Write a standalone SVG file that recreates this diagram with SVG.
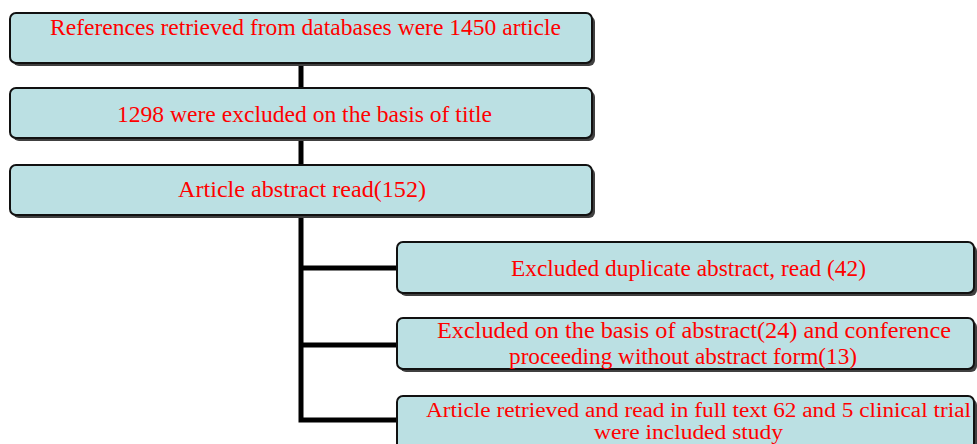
<svg xmlns="http://www.w3.org/2000/svg" width="977" height="444" viewBox="0 0 977 444">
<style>
.box{fill:#bbe0e3;stroke:#111;stroke-width:2}
.sh{fill:#404040}
.t{font-family:"Liberation Serif","Times New Roman",serif;font-size:24px;fill:#ff0000}
.s{font-size:20px}
.c{stroke:#000;stroke-width:5;fill:none}
</style>
<rect width="977" height="444" fill="#fff"/>
<g id="connectors">
<line class="c" x1="301" y1="63" x2="301" y2="88"/>
<line class="c" x1="301" y1="138" x2="301" y2="165"/>
<polyline class="c" points="301,215 301,420 397,420"/>
<line class="c" x1="301" y1="268" x2="397" y2="268"/>
<line class="c" x1="301" y1="345" x2="397" y2="345"/>
</g>
<g id="n1">
<rect class="sh" x="13" y="16" width="582" height="50" rx="6"/>
<rect class="box" x="10" y="13" width="582" height="50" rx="6"/>
<text class="t" x="50" y="35" textLength="511" lengthAdjust="spacingAndGlyphs">References retrieved from databases were 1450 article</text>
</g>
<g id="n2">
<rect class="sh" x="13" y="91" width="582" height="50" rx="6"/>
<rect class="box" x="10" y="88" width="582" height="50" rx="6"/>
<text class="t" x="117" y="122" textLength="375" lengthAdjust="spacingAndGlyphs">1298 were excluded on the basis of title</text>
</g>
<g id="n3">
<rect class="sh" x="13" y="168" width="582" height="50" rx="6"/>
<rect class="box" x="10" y="165" width="582" height="50" rx="6"/>
<text class="t" x="178" y="197" textLength="248" lengthAdjust="spacingAndGlyphs">Article abstract read(152)</text>
</g>
<g id="n4">
<rect class="sh" x="400" y="245" width="577" height="51" rx="6"/>
<rect class="box" x="397" y="242" width="577" height="51" rx="6"/>
<text class="t" x="511" y="276" textLength="355" lengthAdjust="spacingAndGlyphs">Excluded duplicate abstract, read (42)</text>
</g>
<g id="n5">
<rect class="sh" x="400" y="321" width="577" height="51" rx="6"/>
<rect class="box" x="397" y="318" width="577" height="51" rx="6"/>
<text class="t" x="437" y="338" textLength="514" lengthAdjust="spacingAndGlyphs">Excluded on the basis of abstract(24) and conference</text>
<text class="t" x="509" y="364" textLength="348" lengthAdjust="spacingAndGlyphs">proceeding without abstract form(13)</text>
</g>
<g id="n6">
<rect class="sh" x="400" y="399" width="577" height="70" rx="6"/>
<rect class="box" x="397" y="396" width="577" height="70" rx="6"/>
<text class="t s" x="426" y="417" textLength="545" lengthAdjust="spacingAndGlyphs">Article retrieved and read in full text 62 and 5 clinical trial</text>
<text class="t s" x="594" y="439" textLength="189" lengthAdjust="spacingAndGlyphs">were included study</text>
</g>
</svg>
